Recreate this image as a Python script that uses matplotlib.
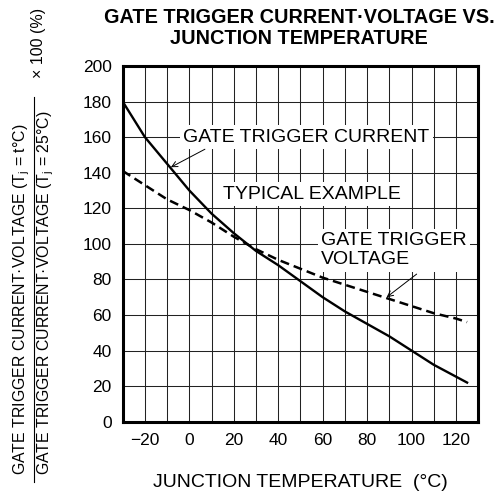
import matplotlib
matplotlib.use('Agg')
import matplotlib.pyplot as plt
from matplotlib.lines import Line2D

plt.rcParams['font.family'] = ['Liberation Sans', 'DejaVu Sans']
plt.rcParams['mathtext.fontset'] = 'custom'
plt.rcParams['mathtext.rm'] = 'Liberation Sans'

# values (percent of the 25 degC value)
temp_current = [-30, -20, -10, 0, 10, 20, 30, 40, 50, 60, 70, 80, 90, 100, 110, 125]
gate_current = [180, 160, 145, 130, 117, 106, 96, 88, 79, 70, 62, 55, 48, 40, 32, 22]

temp_voltage = [-30, -20, -10, 0, 10, 20, 30, 40, 50, 60, 70, 80, 90, 100, 110, 120, 125]
gate_voltage = [141, 133, 125, 119, 112, 104, 97, 91, 86, 81, 77, 73, 69, 65, 61, 58, 56]

x_ticks = [-20, 0, 20, 40, 60, 80, 100, 120]
y_ticks = [0, 20, 40, 60, 80, 100, 120, 140, 160, 180, 200]

W, H = 503, 498
fig = plt.figure(figsize=(W / 100, H / 100), dpi=100)
ax = fig.add_axes([122.7 / W, 1 - 421.7 / H, 355.5 / W, 355.7 / H])

ax.plot(temp_current, gate_current, color='black', lw=1.7, zorder=3)
ax.plot(temp_voltage, gate_voltage, color='black', lw=1.8, dashes=(3.6, 2.0), zorder=3)

ax.set_xlim(-30, 130)
ax.set_ylim(0, 200)
ax.set_xticks(x_ticks)
ax.set_xticks(range(-30, 131, 10), minor=True)
ax.set_yticks(y_ticks)
ax.grid(True, which='both', color='#222222', lw=0.75, zorder=1)
ax.tick_params(which='both', length=0, labelsize=12.5)
ax.tick_params(axis='x', pad=8)
ax.tick_params(axis='y', pad=8)
for s in ax.spines.values():
    s.set_linewidth(2.2)
    s.set_zorder(5)

box = dict(facecolor='white', edgecolor='none', pad=2.5)
ax.text(52.6, 160, 'GATE TRIGGER CURRENT', fontsize=14, ha='center', va='center',
        bbox=box, zorder=4)
ax.text(55, 128, 'TYPICAL EXAMPLE', fontsize=14, ha='center', va='center',
        bbox=box, zorder=4)
ax.text(59.4, 96.4, 'GATE TRIGGER\nVOLTAGE', fontsize=14, ha='left', va='center',
        linespacing=1.15, bbox=box, zorder=4)

arrow = dict(arrowstyle='->', color='black', lw=0.7, shrinkA=0, shrinkB=0)
ax.annotate('', xy=(-8.3, 143.1), xytext=(7, 153.2), arrowprops=arrow, zorder=4)
ax.annotate('', xy=(88.8, 70), xytext=(102.3, 83), arrowprops=arrow, zorder=4)

fig.text(299 / W, 1 - 8 / H, 'GATE TRIGGER CURRENT·VOLTAGE VS.\nJUNCTION TEMPERATURE',
         fontsize=14.3, fontweight='bold', ha='center', va='top', linespacing=1.15)
fig.text(300 / W, 1 - 482 / H, 'JUNCTION TEMPERATURE  (°C)', fontsize=14,
         ha='center', va='center')

# y label as a fraction
fig.text(21.5 / W, 1 - 475 / H, 'GATE TRIGGER CURRENT·VOLTAGE (T$_\\mathregular{j}$ = t°C)',
         fontsize=11.4, rotation=90, ha='center', va='bottom')
fig.text(46 / W, 1 - 475 / H, 'GATE TRIGGER CURRENT·VOLTAGE (T$_\\mathregular{j}$ = 25°C)',
         fontsize=11.4, rotation=90, ha='center', va='bottom')
fig.add_artist(Line2D([34 / W, 34 / W], [1 - 482 / H, 1 - 97 / H], color='black', lw=0.8))
fig.text(38 / W, 1 - 8 / H, '× 100 (%)', fontsize=11.5, rotation=90, ha='center', va='top')

fig.savefig('out.png', dpi=100)
